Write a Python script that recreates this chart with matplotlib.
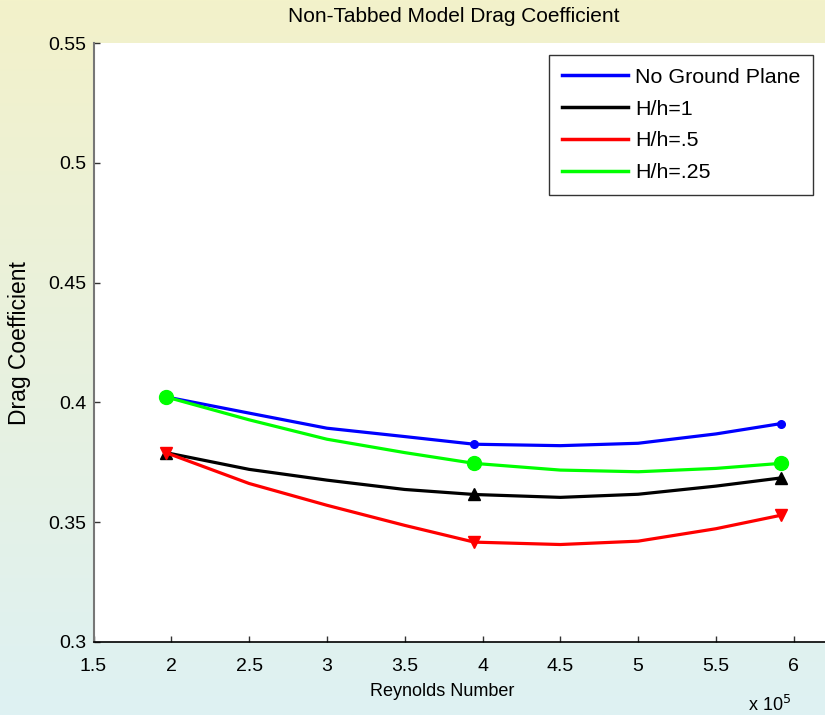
import numpy as np
import matplotlib
matplotlib.use("Agg")
import matplotlib.pyplot as plt
from matplotlib.colors import LinearSegmentedColormap

plt.rcParams['font.family'] = ['Liberation Sans', 'DejaVu Sans']

# Reynolds number (x 10^5) where the curves were read; markers at indices 0, 4, 8
re_e5 = [1.964, 2.5, 3.0, 3.5, 3.947, 4.5, 5.0, 5.5, 5.916]
cd_no_ground = [0.4023, 0.3955, 0.3892, 0.3857, 0.3825, 0.3819, 0.3829, 0.3868, 0.3911]
cd_h1 = [0.3790, 0.3720, 0.3675, 0.3636, 0.3615, 0.3603, 0.3616, 0.3650, 0.3684]
cd_h05 = [0.3790, 0.3661, 0.3570, 0.3486, 0.3416, 0.3406, 0.3420, 0.3472, 0.3528]
cd_h025 = [0.4023, 0.3927, 0.3846, 0.3790, 0.3745, 0.3717, 0.3710, 0.3724, 0.3745]
marker_idx = [0, 4, 8]

labels = ['No Ground Plane', 'H/h=1', 'H/h=.5', 'H/h=.25']
x_ticks = [1.5, 2, 2.5, 3, 3.5, 4, 4.5, 5, 5.5, 6]
y_ticks = [0.3, 0.35, 0.4, 0.45, 0.5, 0.55]

W, H = 825, 715
fig = plt.figure(figsize=(W / 100, H / 100), dpi=100)

# gradient background
bg = fig.add_axes([0, 0, 1, 1], zorder=-10)
cmap = LinearSegmentedColormap.from_list('bg', ['#f3f2ca', '#def1f3'])
bg.imshow(np.linspace(0, 1, 256).reshape(-1, 1), aspect='auto', cmap=cmap,
          extent=[0, 1, 0, 1])
bg.set_axis_off()

left = 93.5 / W
bottom = 1 - 641.7 / H
top = 1 - 43.3 / H
px_per_unit = (793.7 - 93.5) / 4.5
width = (5.0 * px_per_unit) / W
ax = fig.add_axes([left, bottom, width, top - bottom])
ax.set_facecolor('white')

lw = 2.3
ax.plot(re_e5, cd_no_ground, color='#0000ff', lw=lw, marker='o', markersize=5.5,
        markevery=marker_idx, label=labels[0])
ax.plot(re_e5, cd_h1, color='black', lw=lw, marker='^', markersize=9,
        markevery=marker_idx, label=labels[1])
ax.plot(re_e5, cd_h05, color='#ff0000', lw=lw, marker='v', markersize=9,
        markevery=marker_idx, label=labels[2])
ax.plot(re_e5, cd_h025, color='#00ff00', lw=lw, marker='o', markersize=10,
        markevery=marker_idx, label=labels[3])

ax.set_xlim(1.5, 6.5)
ax.set_ylim(0.3, 0.55)
ax.set_xticks(x_ticks)
ax.set_xticklabels([f'{t:g}' for t in x_ticks])
ax.set_yticks(y_ticks)
ax.set_yticklabels([f'{t:g}' for t in y_ticks])
ax.tick_params(direction='in', length=4, width=1, color='#333333',
               labelsize=14)
ax.tick_params(axis='x', pad=12)
ax.tick_params(axis='y', pad=5)
for s in ['top', 'right']:
    ax.spines[s].set_visible(False)
ax.spines['left'].set_color('#777777')
ax.spines['left'].set_linewidth(1.5)
ax.spines['bottom'].set_color('black')
ax.spines['bottom'].set_linewidth(1.2)

fig.text(454 / W, 1 - 17 / H, 'Non-Tabbed Model Drag Coefficient', ha='center',
         va='center', fontsize=15)
fig.text(442 / W, 1 - 691 / H, 'Reynolds Number', ha='center', va='center',
         fontsize=13)
fig.text(20 / W, 1 - 343 / H, 'Drag Coefficient', ha='center', va='center',
         rotation=90, fontsize=16.5)
fig.text(748 / W, 1 - 705 / H, r'x 10$^{5}$', ha='left', va='center', fontsize=13)

leg = ax.legend(loc='upper left', bbox_to_anchor=(549 / W, 1 - 55 / H),
                bbox_transform=fig.transFigure, fontsize=15.4, frameon=True,
                fancybox=False, edgecolor='black', handlelength=3.1,
                handletextpad=0.33, labelspacing=0.6, borderpad=0.6,
                borderaxespad=0, markerscale=0)
for h in leg.legend_handles:
    h.set_marker('')
    h.set_linewidth(2.5)
leg.get_frame().set_linewidth(1.0)

fig.savefig('out.png', dpi=100)
